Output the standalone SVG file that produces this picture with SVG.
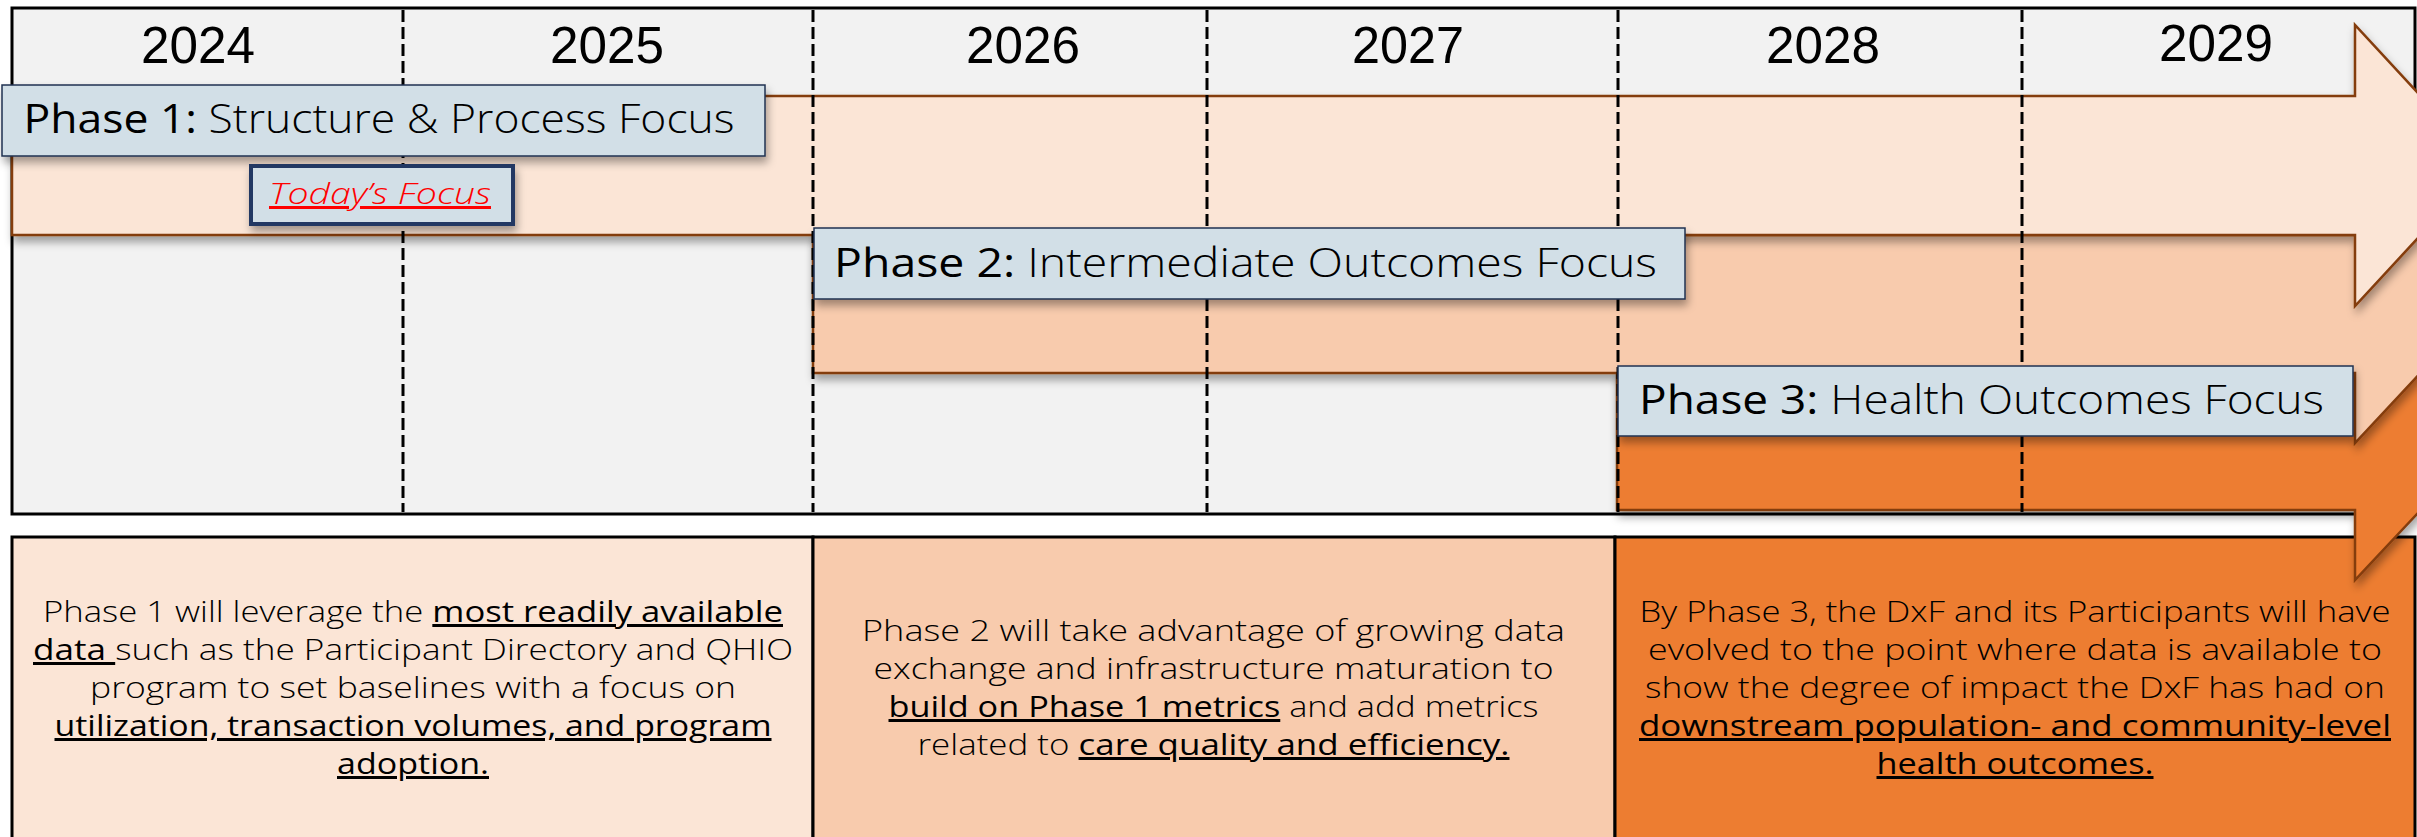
<svg xmlns="http://www.w3.org/2000/svg" width="2417" height="837" viewBox="0 0 2417 837">
<defs>
<filter id="sh" x="-5%" y="-20%" width="110%" height="150%">
<feDropShadow dx="2" dy="6" stdDeviation="4" flood-color="#000" flood-opacity="0.35"/>
</filter>
<style>
.yr{font-family:"Liberation Sans",Arial,sans-serif;font-size:52px;fill:#000;text-anchor:middle}
.lbl{font-family:"Open Sans","Noto Sans",sans-serif;font-size:41px;fill:#000}
.b{font-weight:500}
.r{font-weight:300}
.body{font-family:"Open Sans","Noto Sans",sans-serif;font-size:30px;font-weight:300;fill:#000;text-anchor:middle}
.u{font-weight:500;text-decoration:underline}
.div{stroke:#000;stroke-width:3;stroke-dasharray:12 5;fill:none}
.arrow{stroke:#843c0c;stroke-width:2.5;stroke-linejoin:miter}
.lbox{fill:#d2dfe7;stroke:#1f3251;stroke-width:1.5}
.pbox{stroke:#000;stroke-width:3}
</style>
</defs>
<rect width="2417" height="837" fill="#fff"/>
<g id="timeline-frame">
<rect x="12" y="8" width="2403" height="506" fill="#f2f2f2" stroke="#000" stroke-width="3"/>
</g>
<g id="desc-phase1">
<rect class="pbox" x="12" y="537" width="801" height="320" fill="#fbe5d6"/>
<text class="body" x="413" y="622" textLength="740" lengthAdjust="spacingAndGlyphs">Phase 1 will leverage the <tspan class="u">most readily available</tspan></text>
<text class="body" x="413" y="660" textLength="760" lengthAdjust="spacingAndGlyphs"><tspan class="u">data </tspan>such as the Participant Directory and QHIO</text>
<text class="body" x="413" y="698" textLength="646" lengthAdjust="spacingAndGlyphs">program to set baselines with a focus on</text>
<text class="body" x="413" y="736" textLength="717" lengthAdjust="spacingAndGlyphs"><tspan class="u">utilization, transaction volumes, and program</tspan></text>
<text class="body" x="413" y="774" textLength="152" lengthAdjust="spacingAndGlyphs"><tspan class="u">adoption.</tspan></text>
</g>
<g id="desc-phase2">
<rect class="pbox" x="813" y="537" width="802" height="320" fill="#f8cbad"/>
<text class="body" x="1213.5" y="641" textLength="703" lengthAdjust="spacingAndGlyphs">Phase 2 will take advantage of growing data</text>
<text class="body" x="1213.5" y="679" textLength="680" lengthAdjust="spacingAndGlyphs">exchange and infrastructure maturation to</text>
<text class="body" x="1213.5" y="717" textLength="650" lengthAdjust="spacingAndGlyphs"><tspan class="u">build on Phase 1 metrics</tspan> and add metrics</text>
<text class="body" x="1213.5" y="755" textLength="592" lengthAdjust="spacingAndGlyphs">related to <tspan class="u">care quality and efficiency.</tspan></text>
</g>
<g id="desc-phase3">
<rect class="pbox" x="1615" y="537" width="800" height="320" fill="#ed7d31"/>
<text class="body" x="2015" y="622" textLength="751" lengthAdjust="spacingAndGlyphs">By Phase 3, the DxF and its Participants will have</text>
<text class="body" x="2015" y="660" textLength="734" lengthAdjust="spacingAndGlyphs">evolved to the point where data is available to</text>
<text class="body" x="2015" y="698" textLength="740" lengthAdjust="spacingAndGlyphs">show the degree of impact the DxF has had on</text>
<text class="body" x="2015" y="736" textLength="752" lengthAdjust="spacingAndGlyphs"><tspan class="u">downstream population- and community-level</tspan></text>
<text class="body" x="2015" y="774" textLength="277" lengthAdjust="spacingAndGlyphs"><tspan class="u">health outcomes.</tspan></text>
</g>
<g id="phase3-arrow">
<path class="arrow" filter="url(#sh)" fill="#ed7d31" d="M1617,373 H2355 V303 L2485,441.5 L2355,580 V510 H1617 Z"/>
</g>
<g id="phase2-arrow">
<path class="arrow" filter="url(#sh)" fill="#f8cbad" d="M813,235 H2355 V165 L2485,304 L2355,443 V373 H813 Z"/>
</g>
<g id="phase1-arrow">
<path class="arrow" filter="url(#sh)" fill="#fbe5d6" d="M12,96 H2355 V25 L2485,165.5 L2355,306 V235 H12 Z"/>
</g>
<g id="year-dividers">
<line class="div" x1="403" y1="10" x2="403" y2="512"/>
<line class="div" x1="813" y1="10" x2="813" y2="512"/>
<line class="div" x1="1207" y1="10" x2="1207" y2="512"/>
<line class="div" x1="1618" y1="10" x2="1618" y2="512"/>
<line class="div" x1="2022" y1="10" x2="2022" y2="512"/>
</g>
<g id="years">
<text class="yr" x="198" y="63" textLength="114" lengthAdjust="spacingAndGlyphs">2024</text>
<text class="yr" x="607" y="63" textLength="114" lengthAdjust="spacingAndGlyphs">2025</text>
<text class="yr" x="1023" y="63" textLength="114" lengthAdjust="spacingAndGlyphs">2026</text>
<text class="yr" x="1408" y="63" textLength="112" lengthAdjust="spacingAndGlyphs">2027</text>
<text class="yr" x="1823" y="63" textLength="114" lengthAdjust="spacingAndGlyphs">2028</text>
<text class="yr" x="2216" y="61" textLength="114" lengthAdjust="spacingAndGlyphs">2029</text>
</g>
<g id="phase1-label">
<rect class="lbox" filter="url(#sh)" x="2" y="85" width="763" height="71"/>
<text class="lbl" x="23.5" y="133" textLength="711" lengthAdjust="spacingAndGlyphs"><tspan class="b">Phase 1:</tspan><tspan class="r"> Structure &amp; Process Focus</tspan></text>
</g>
<g id="todays-focus">
<rect filter="url(#sh)" x="251" y="166" width="262" height="58" fill="#d2dfe7" stroke="#203864" stroke-width="4"/>
<text x="380" y="204" textLength="222" lengthAdjust="spacingAndGlyphs" text-anchor="middle" font-family="'Open Sans','Noto Sans',sans-serif" font-size="30" font-style="italic" font-weight="300" fill="#ff0000" text-decoration="underline">Today’s Focus</text>
</g>
<g id="phase2-label">
<rect class="lbox" filter="url(#sh)" x="814" y="228" width="871" height="71"/>
<text class="lbl" x="834" y="277" textLength="823" lengthAdjust="spacingAndGlyphs"><tspan class="b">Phase 2:</tspan><tspan class="r"> Intermediate Outcomes Focus</tspan></text>
</g>
<g id="phase3-label">
<rect class="lbox" filter="url(#sh)" x="1618" y="366" width="735" height="70"/>
<text class="lbl" x="1639" y="414" textLength="685" lengthAdjust="spacingAndGlyphs"><tspan class="b">Phase 3:</tspan><tspan class="r"> Health Outcomes Focus</tspan></text>
</g>
<g id="connectors"/>
</svg>
